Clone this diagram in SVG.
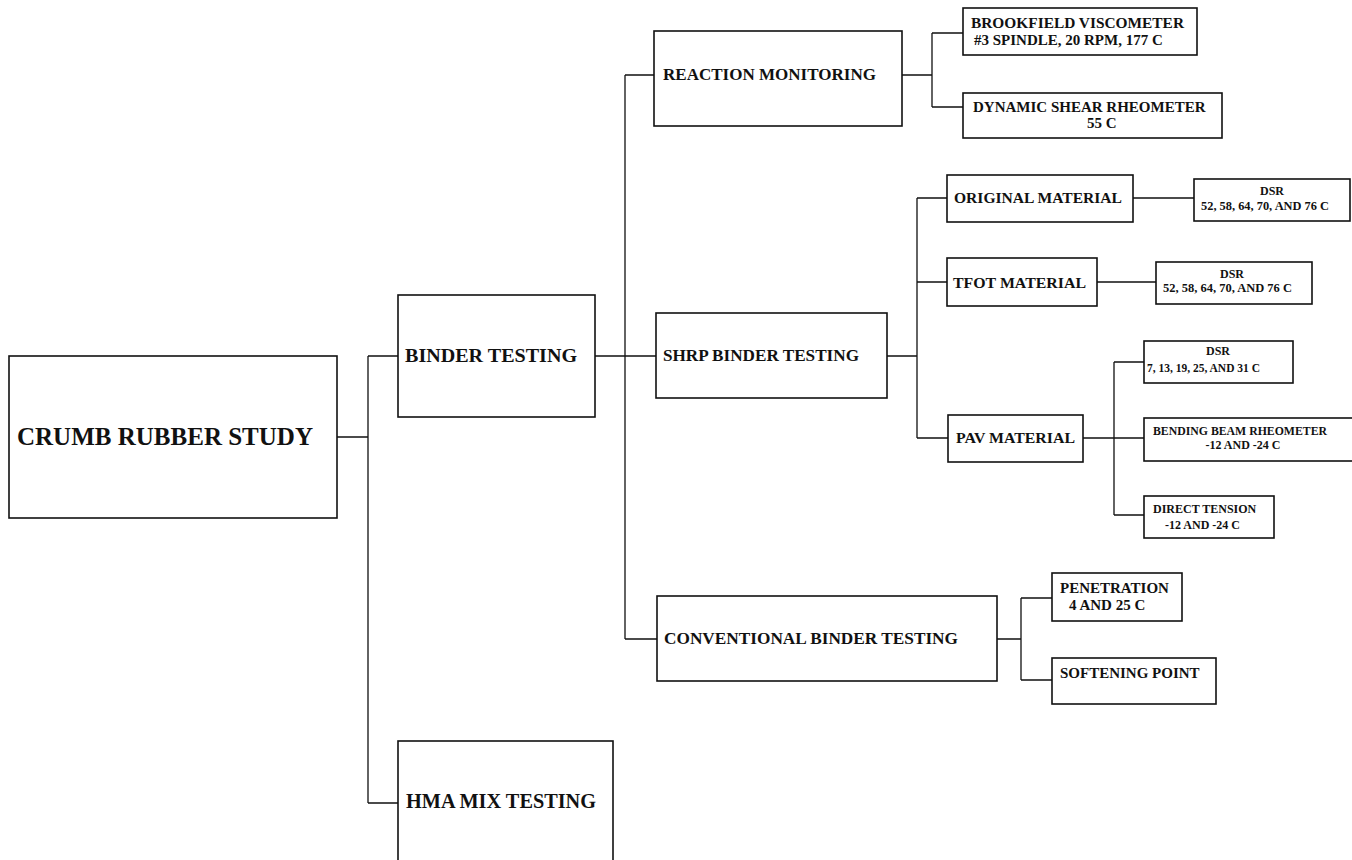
<svg xmlns="http://www.w3.org/2000/svg" width="1352" height="860" viewBox="0 0 1352 860">
<style>
.box{fill:#fff;stroke:#111;stroke-width:1.6}
.ln{fill:none;stroke:#111;stroke-width:1.3}
text{font-family:"Liberation Serif","Times New Roman",serif;font-weight:bold;fill:#111}
.t26{font-size:26px}.t20{font-size:20px}.t19{font-size:19px}.t17{font-size:17px}.t155{font-size:15.5px}.t15{font-size:15px}.t12{font-size:12px}
.c{text-anchor:middle}
</style>
<rect width="1352" height="860" fill="#fff"/>
<g id="connectors">
<path class="ln" d="M337,437H368M368,356V803M368,356H398M368,803H398"/>
<path class="ln" d="M595,356H656M625,75V639M625,75H654M625,639H657"/>
<path class="ln" d="M902,75H932M932,33V107M932,33H963M932,107H963"/>
<path class="ln" d="M887,356H917M917,198V438M917,198H947M917,282H947M917,438H948"/>
<path class="ln" d="M1133,198H1194M1097,282H1156"/>
<path class="ln" d="M1083,438H1114M1114,362V515M1114,362H1144M1114,438H1144M1114,515H1144"/>
<path class="ln" d="M997,639H1021M1021,598V680M1021,598H1052M1021,680H1052"/>
</g>
<g id="crumb"><rect class="box" x="9" y="356" width="328" height="162"/><text class="t26" x="17" y="445" textLength="296" lengthAdjust="spacingAndGlyphs">CRUMB RUBBER STUDY</text></g>
<g id="binder"><rect class="box" x="398" y="295" width="197" height="122"/><text class="t19" x="405" y="362" textLength="172" lengthAdjust="spacingAndGlyphs">BINDER TESTING</text></g>
<g id="hma"><rect class="box" x="398" y="741" width="215" height="130"/><text class="t20" x="406" y="808" textLength="190" lengthAdjust="spacingAndGlyphs">HMA MIX TESTING</text></g>
<g id="reaction"><rect class="box" x="654" y="31" width="248" height="95"/><text class="t17" x="663" y="80" textLength="213" lengthAdjust="spacingAndGlyphs">REACTION MONITORING</text></g>
<g id="shrp"><rect class="box" x="656" y="313" width="231" height="85"/><text class="t17" x="663" y="361" textLength="196" lengthAdjust="spacingAndGlyphs">SHRP BINDER TESTING</text></g>
<g id="conventional"><rect class="box" x="657" y="596" width="340" height="85"/><text class="t17" x="664" y="644" textLength="294" lengthAdjust="spacingAndGlyphs">CONVENTIONAL BINDER TESTING</text></g>
<g id="brookfield"><rect class="box" x="963" y="8" width="234" height="47"/><text class="t15" x="971" y="28" textLength="213" lengthAdjust="spacingAndGlyphs">BROOKFIELD VISCOMETER</text><text class="t15" x="974" y="45">#3 SPINDLE, 20 RPM, 177 C</text></g>
<g id="dynamic"><rect class="box" x="963" y="93" width="259" height="45"/><text class="t15" x="973" y="112">DYNAMIC SHEAR RHEOMETER</text><text class="t15" x="1087" y="128">55 C</text></g>
<g id="original"><rect class="box" x="947" y="175" width="186" height="47"/><text class="t155" x="954" y="203" textLength="168" lengthAdjust="spacingAndGlyphs">ORIGINAL MATERIAL</text></g>
<g id="dsr1"><rect class="box" x="1194" y="179" width="156" height="42"/><text class="t12 c" x="1272" y="195">DSR</text><text class="t12" x="1201" y="210" textLength="128" lengthAdjust="spacingAndGlyphs">52, 58, 64, 70, AND 76 C</text></g>
<g id="tfot"><rect class="box" x="947" y="258" width="150" height="48"/><text class="t155" x="953" y="288" textLength="133" lengthAdjust="spacingAndGlyphs">TFOT MATERIAL</text></g>
<g id="dsr2"><rect class="box" x="1156" y="262" width="156" height="42"/><text class="t12 c" x="1232" y="278">DSR</text><text class="t12" x="1163" y="292" textLength="129" lengthAdjust="spacingAndGlyphs">52, 58, 64, 70, AND 76 C</text></g>
<g id="pav"><rect class="box" x="948" y="415" width="135" height="47"/><text class="t155" x="956" y="443" textLength="119" lengthAdjust="spacingAndGlyphs">PAV MATERIAL</text></g>
<g id="dsr3"><rect class="box" x="1144" y="341" width="149" height="42"/><text class="t12 c" x="1218" y="355">DSR</text><text class="t12" x="1147" y="372" textLength="113" lengthAdjust="spacingAndGlyphs">7, 13, 19, 25, AND 31 C</text></g>
<g id="bbr"><rect class="box" x="1144" y="418" width="215" height="43"/><text class="t12" x="1153" y="435" textLength="174" lengthAdjust="spacingAndGlyphs">BENDING BEAM RHEOMETER</text><text class="t12 c" x="1243" y="449">-12 AND -24 C</text></g>
<g id="dt"><rect class="box" x="1144" y="496" width="130" height="42"/><text class="t12" x="1153" y="513">DIRECT TENSION</text><text class="t12" x="1165" y="529">-12 AND -24 C</text></g>
<g id="penetration"><rect class="box" x="1052" y="573" width="130" height="48"/><text class="t15" x="1060" y="593">PENETRATION</text><text class="t15" x="1069" y="610">4 AND 25 C</text></g>
<g id="softening"><rect class="box" x="1052" y="658" width="164" height="46"/><text class="t15" x="1060" y="678">SOFTENING POINT</text></g>
</svg>
